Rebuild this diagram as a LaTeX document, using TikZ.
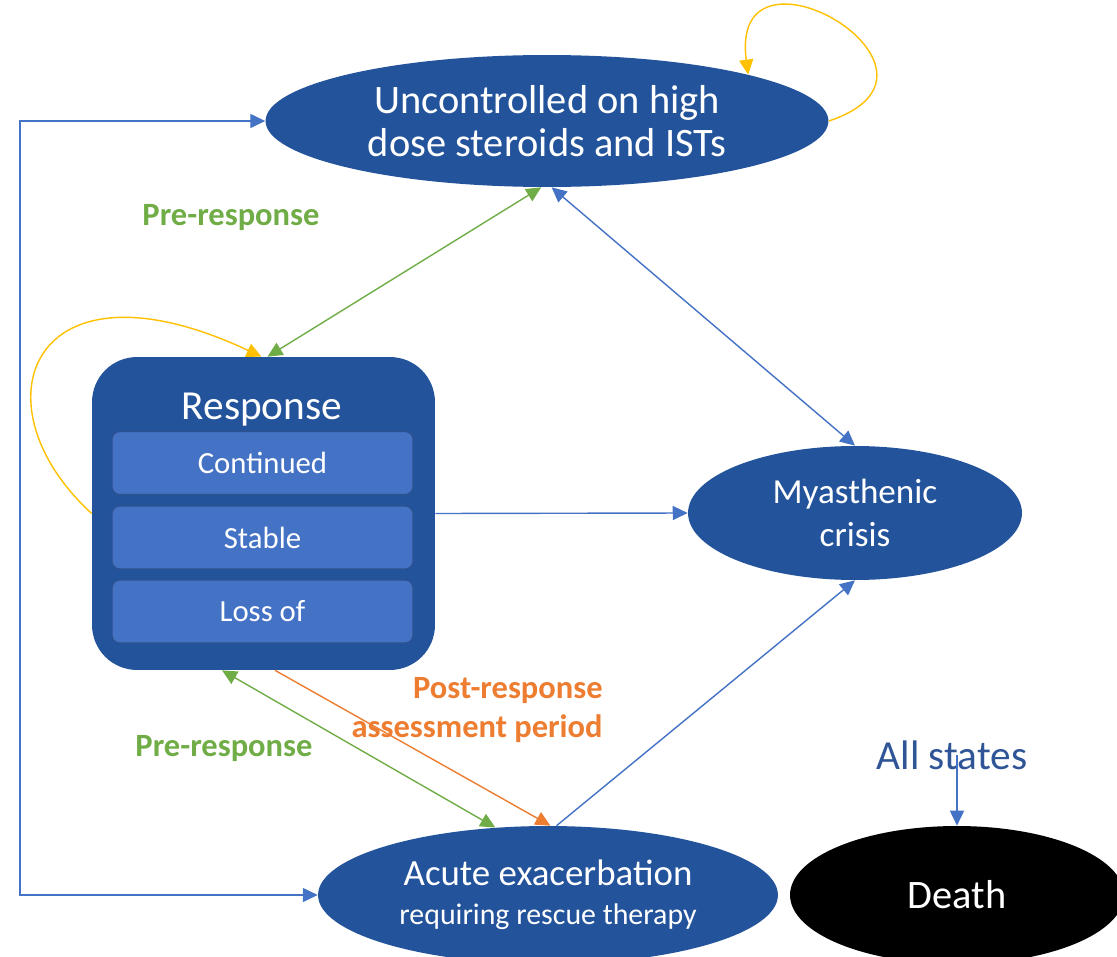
\documentclass[tikz,border=0pt]{standalone}
\usepackage{fontspec}
\setmainfont{Carlito}
\usetikzlibrary{shapes.geometric,arrows.meta}
\definecolor{statefill}{HTML}{23539B}
\definecolor{subfill}{HTML}{4472C4}
\definecolor{subline}{HTML}{2F528F}
\definecolor{linkblue}{HTML}{4472C4}
\definecolor{loopgold}{HTML}{FFC000}
\definecolor{pregreen}{HTML}{70AD47}
\definecolor{postorange}{HTML}{ED7D31}
\definecolor{textblue}{HTML}{2F5597}
\begin{document}
\begin{tikzpicture}[
		x=0.02cm, y=-0.02cm,
		>={Triangle[length=8.5pt,width=8pt]},
		every node/.style={text=white, align=center, inner sep=0},
		state/.style={ellipse, fill=statefill},
		substate/.style={rectangle, rounded corners=0.16cm, fill=subfill, draw=subline, line width=0.6pt,
			minimum width=6.02cm, minimum height=1.26cm, font=\fontsize{17.5}{20}\selectfont},
		link/.style={draw=linkblue, line width=0.8pt},
		greenlink/.style={draw=pregreen, line width=0.8pt},
		orangelink/.style={draw=postorange, line width=0.8pt},
		goldlink/.style={draw=loopgold, line width=0.8pt},
		prelabel/.style={text=pregreen, font=\fontsize{18.5}{22}\bfseries\selectfont},
		postlabel/.style={text=postorange, font=\fontsize{18.5}{22}\bfseries\selectfont, align=right},
	]
	\useasboundingbox (0,0) rectangle (1117,957);
	\node[state, minimum width=11.26cm, minimum height=2.64cm, font=\fontsize{23}{24.5}\selectfont] (unc) at (547,121)
		{Uncontrolled on high\\dose steroids and ISTs};
	\node[rectangle, rounded corners=0.9cm, fill=statefill, minimum width=6.86cm, minimum height=6.26cm] (resp) at (263.5,513.5) {};
	\node[font=\fontsize{23.5}{26}\selectfont] (resptitle) at (262,410) {Response};
	\node[substate] (cont) at (262.5,463) {Continued};
	\node[substate] (stab) at (262.5,537.5) {Stable};
	\node[substate] (loss) at (262.5,611.5) {Loss of};
	\node[state, minimum width=6.68cm, minimum height=2.68cm, font=\fontsize{20}{24.4}\selectfont] (myas) at (855,513)
		{Myasthenic\\crisis};
	\node[state, minimum width=9.2cm, minimum height=2.76cm, font=\fontsize{21}{22}\selectfont] (acute) at (548,895)
		{Acute exacerbation\\[0pt]{\fontsize{17}{20}\selectfont requiring rescue therapy}};
	\node[state, fill=black, minimum width=6.68cm, minimum height=2.76cm, font=\fontsize{23}{26}\selectfont] (dea) at (957,895) {Death};
	\node[text=textblue, font=\fontsize{23.5}{26}\selectfont] (allst) at (952,755) {All states};
	\node[prelabel] (prea) at (231,218) {Pre-response};
	\node[prelabel] (preb) at (224,749) {Pre-response};
	\node[postlabel, anchor=east] (post) at (603,710) {Post-response\\assessment period};
	% transitions
	\coordinate (leftrail) at (20,500);
	\draw[link, <->] (unc.west) -- (unc.west -| leftrail) -- (acute.west -| leftrail) -- (acute.west);
	\draw[link, <->] (unc.274) -- (myas.north);
	\draw[link, ->] (resp.east) -- (myas.west);
	\draw[link, ->] (acute.83) -- (myas.south);
	\draw[greenlink, <->] (unc.265) -- ([xshift=0.08cm]resp.north);
	\draw[greenlink, <->] ([xshift=-0.83cm]resp.south) -- (acute.128);
	\draw[orangelink, ->] ([xshift=0.23cm]resp.south) -- (acute.88);
	\draw[link, ->] (allst.center -| dea.north) -- (dea.north);
	% self loops
	\draw[goldlink, ->] (unc.east) .. controls +(150,-50) and +(-20,-150) .. (unc.13);
	\draw[goldlink, ->] (resp.west) .. controls +(-120,-110) and +(-230,-108) .. ([xshift=-0.04cm]resp.north);
\end{tikzpicture}
\end{document}
